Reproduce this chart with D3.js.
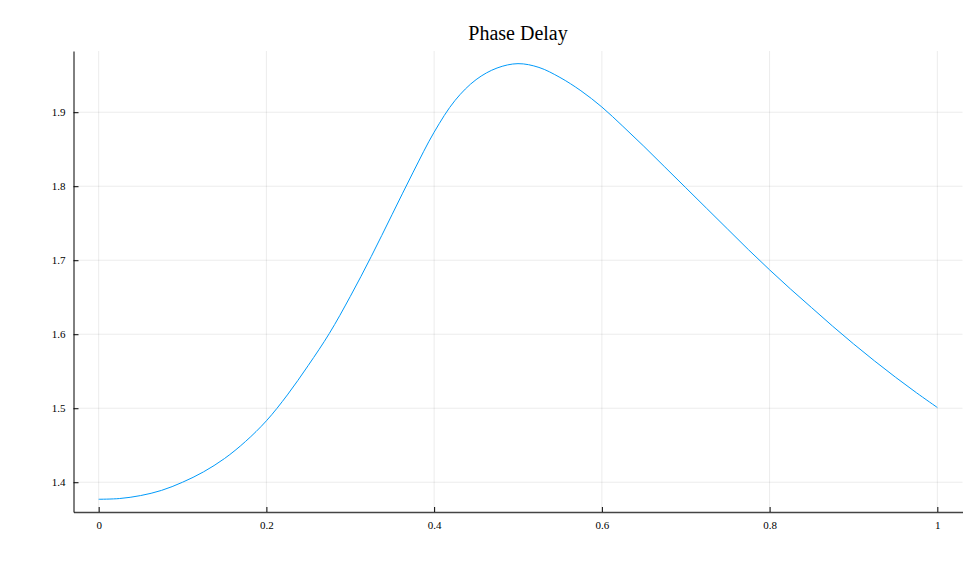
<!DOCTYPE html>
<html>
<head>
<meta charset="utf-8">
<script src="https://cdn.jsdelivr.net/npm/d3@7"></script>
<style>
  html, body { margin: 0; padding: 0; background: #fff; }
  svg { display: block; }
</style>
</head>
<body>
<svg id="chart" width="968" height="572"></svg>
<script>
const title = "Phase Delay";
const xValues = [0, 0.025, 0.05, 0.075, 0.1, 0.125, 0.15, 0.175, 0.2, 0.225, 0.25, 0.275, 0.3, 0.325, 0.35, 0.375, 0.4, 0.425, 0.45, 0.475, 0.5, 0.525, 0.55, 0.575, 0.6, 0.625, 0.65, 0.675, 0.7, 0.725, 0.75, 0.775, 0.8, 0.825, 0.85, 0.875, 0.9, 0.925, 0.95, 0.975, 1.0];
const yValues = [1.377, 1.378, 1.382, 1.389, 1.400, 1.414, 1.432, 1.455, 1.483, 1.518, 1.558, 1.601, 1.651, 1.705, 1.762, 1.819, 1.873, 1.916, 1.944, 1.9597, 1.9656, 1.9605, 1.947, 1.929, 1.907, 1.881, 1.854, 1.826, 1.798, 1.770, 1.742, 1.714, 1.687, 1.661, 1.636, 1.611, 1.587, 1.564, 1.542, 1.521, 1.501];
const xTicks = [0, 0.2, 0.4, 0.6, 0.8, 1];
const yTicks = [1.4, 1.5, 1.6, 1.7, 1.8, 1.9];
const xTickLabels = ["0", "0.2", "0.4", "0.6", "0.8", "1"];
const yTickLabels = ["1.4", "1.5", "1.6", "1.7", "1.8", "1.9"];

const svg = d3.select("#chart");
const L = 73.5, R = 962.5, T = 51, B = 512;
const font = "'Liberation Serif', 'Times New Roman', serif";

const x = d3.scaleLinear().domain([-0.03, 1.03]).range([L, R]);
const y = d3.scaleLinear().domain([1.3598, 1.9827]).range([B, T]);

// gridlines
const grid = svg.append("g");
grid.selectAll("line.gx").data(xTicks).join("line")
  .attr("x1", d => x(d)).attr("x2", d => x(d))
  .attr("y1", T).attr("y2", B)
  .attr("stroke", "#000").attr("stroke-opacity", 0.08).attr("stroke-width", 1);
grid.selectAll("line.gy").data(yTicks).join("line")
  .attr("x1", L).attr("x2", R)
  .attr("y1", d => y(d)).attr("y2", d => y(d))
  .attr("stroke", "#000").attr("stroke-opacity", 0.08).attr("stroke-width", 1);

// axes
const xAxis = d3.axisBottom(x).tickValues(xTicks).tickSizeInner(-5).tickSizeOuter(0)
  .tickPadding(9).tickFormat((d, i) => xTickLabels[i]);
const yAxis = d3.axisLeft(y).tickValues(yTicks).tickSizeInner(-5).tickSizeOuter(0)
  .tickPadding(8).tickFormat((d, i) => yTickLabels[i]);

const gx = svg.append("g").attr("transform", `translate(0,${B})`).call(xAxis);
const gy = svg.append("g").attr("transform", `translate(${L},0)`).call(yAxis);
[gx, gy].forEach(g => {
  g.select(".domain").attr("stroke", "#000").attr("stroke-width", 1);
  g.selectAll(".tick line").attr("stroke", "#000");
  g.selectAll(".tick text").attr("fill", "#000")
    .style("font-family", font).style("font-size", "11px");
});
gx.select(".domain").attr("stroke", "#444").attr("stroke-width", 1.6);

// line
const line = d3.line().x((d, i) => x(xValues[i])).y(d => y(d)).curve(d3.curveCatmullRom.alpha(0.5));
svg.append("path").datum(yValues)
  .attr("d", line)
  .attr("fill", "none")
  .attr("stroke", "#009AFA")
  .attr("stroke-width", 1);

// title
svg.append("text")
  .attr("x", (L + R) / 2).attr("y", 40)
  .attr("text-anchor", "middle")
  .style("font-family", font).style("font-size", "20px")
  .attr("fill", "#000")
  .text(title);
</script>
</body>
</html>
